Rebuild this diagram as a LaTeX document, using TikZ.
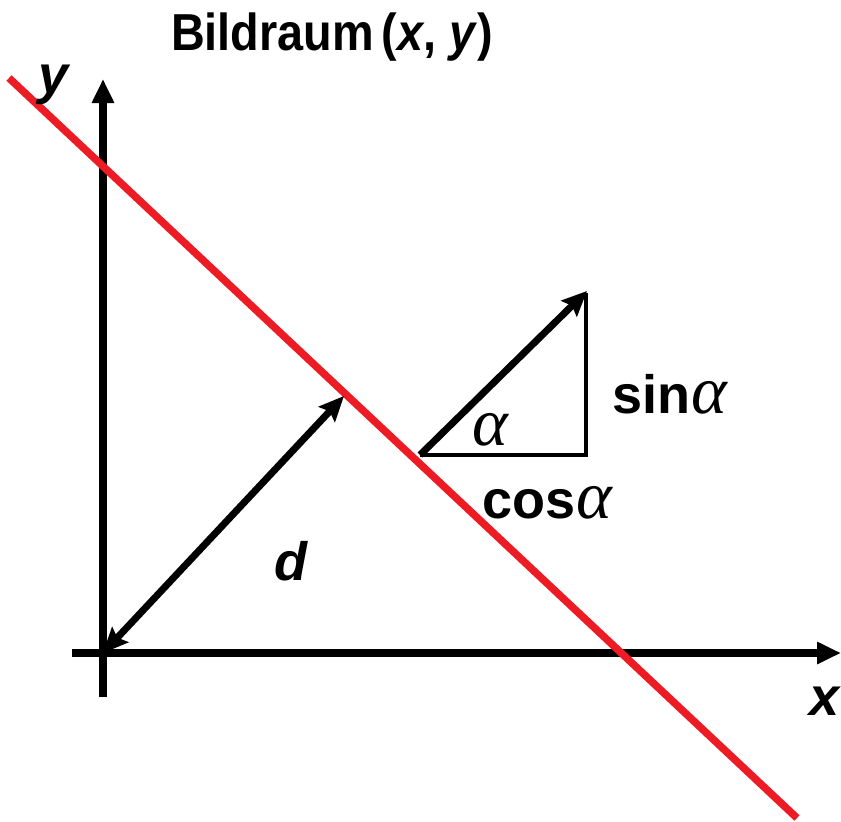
\documentclass[tikz,border=0pt]{standalone}
\usepackage{fontspec}
\setmainfont{Liberation Sans}
\newfontfamily\grk{Liberation Serif}
\usetikzlibrary{arrows.meta}
\begin{document}
\begin{tikzpicture}[x=1pt,y=-1pt,
  axis/.style={line width=7.5pt,-{Triangle[length=24pt,width=21pt]}},
  redline/.style={line width=7.5pt,draw=lred},
  darrow/.style={line width=7pt,{Stealth[length=25pt,width=22pt,inset=4pt]}-{Stealth[length=25pt,width=22pt,inset=4pt]}},
  varrow/.style={line width=7pt,-{Stealth[length=25pt,width=22pt,inset=4pt]}},
  thin/.style={line width=3.5pt},
  lbl/.style={inner sep=0pt,font=\fontsize{54}{60}\selectfont\bfseries},
  ilbl/.style={inner sep=0pt,font=\fontsize{54}{60}\selectfont\bfseries\itshape},
  alph/.style={font=\fontsize{68}{72}\selectfont\grk\itshape\mdseries}]
\definecolor{lred}{HTML}{ED1C24}
\useasboundingbox (0,0) rectangle (841,822);
% coordinates
\coordinate (ybot) at (103,697);
\coordinate (ytop) at (103,79);
\coordinate (xleft) at (72,653);
\coordinate (xright) at (841,653);
\coordinate (O) at (103,653);
\coordinate (F) at (344,396);
\coordinate (R1) at (9,78);
\coordinate (R2) at (797,818);
\coordinate (A) at (420,455);
\coordinate (B) at (587,291);
\coordinate (C) at (586,455);
% axes
\draw[axis] (ybot) -- (ytop);
\draw[axis] (xleft) -- (xright);
% red line
\draw[redline] (R1) -- (R2);
% d arrow
\draw[darrow] (O) -- (F);
% small triangle
\draw[thin] (A) -- (C) -- ([yshift=-1.5pt]C |- B);
\draw[varrow] (A) -- (B);
% labels
\node[inner sep=0pt,anchor=base,font=\fontsize{52}{58}\selectfont\bfseries,xscale=0.9] (title) at (332,50) {Bildraum\,(\textit{x}, \textit{y})};
\node[ilbl,anchor=base] (ylab) at (54,93) {y};
\node[ilbl,anchor=base] (xlab) at (825,715) {x};
\node[ilbl,anchor=base] (dlab) at (291,580) {d};
\node[lbl,anchor=base west] (sinlab) at (612,413) {sin\hspace{1pt}{\fontsize{68}{72}\selectfont\grk\itshape\mdseries α}};
\node[lbl,anchor=base west] (coslab) at (482,518) {cos\hspace{1pt}{\fontsize{68}{72}\selectfont\grk\itshape\mdseries α}};
\node[inner sep=0pt,anchor=base,alph] (alab) at (490,445) {α};
\end{tikzpicture}
\end{document}
